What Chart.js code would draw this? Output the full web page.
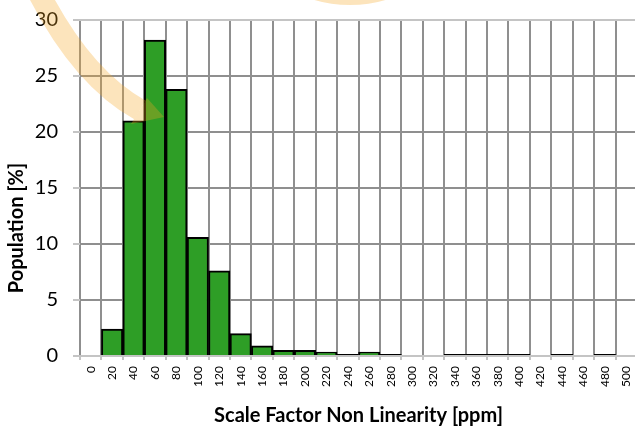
<!DOCTYPE html>
<html>
<head>
<meta charset="utf-8">
<script src="https://cdn.jsdelivr.net/npm/chart.js@4"></script>
<style>
  html, body { margin: 0; padding: 0; background: #fff; overflow: hidden; }
  #wrap { width: 640px; height: 428px; }
</style>
</head>
<body>
<div id="wrap"><canvas id="chart"></canvas></div>
<script>
// bins of the histogram (ppm)
const bins = ['0','20','40','60','80','100','120','140','160','180','200','220','240','260','280','300','320','340','360','380','400','420','440','460','480','500'];
// population per bin [%]
const population = [0, 2.4, 21.0, 28.2, 23.8, 10.6, 7.6, 2.0, 0.9, 0.5, 0.5, 0.35, 0.15, 0.35, 0.15, 0, 0, 0.15, 0.15, 0.15, 0.15, 0, 0.15, 0, 0.15, 0];
const yTicks = [0, 5, 10, 15, 20, 25, 30];

const FONT = 'Lato, "Open Sans", sans-serif';

// the big translucent orange arrow drawn over the plot
const arrowPlugin = {
    id: 'arrow',
    afterDraw(chart){
        const c = chart.ctx;
        const off = document.createElement('canvas');
        off.width = chart.width; off.height = chart.height;
        const o = off.getContext('2d');
        o.strokeStyle = '#f5a623';
        o.fillStyle = '#f5a623';
        o.lineWidth = 22;
        o.lineCap = 'butt';
        // top piece, mostly out of view
        o.beginPath();
        o.ellipse(350, -60, 79, 54, 0, 0, Math.PI);
        o.stroke();
        // tail coming down on the left
        o.beginPath();
        o.moveTo(30, -25);
        o.bezierCurveTo(58, 35, 95, 85, 140, 110);
        o.stroke();
        // arrow head
        o.beginPath();
        o.moveTo(147, 98);
        o.lineTo(164, 117);
        o.lineTo(131, 124);
        o.closePath();
        o.fill();
        c.save();
        c.globalAlpha = 0.3;
        c.drawImage(off, 0, 0);
        c.restore();
    }
};

// y axis title, placed where the original has it
const yTitlePlugin = {
    id: 'ytitle',
    afterDraw(chart){
        const c = chart.ctx;
        c.save();
        c.translate(17, 228);
        c.rotate(-Math.PI/2);
        c.font = 'bold 20px ' + FONT;
        c.fillStyle = '#000';
        c.textAlign = 'center';
        c.textBaseline = 'middle';
        c.fillText('Population [%]', 0, 0);
        c.restore();
    }
};

new Chart(document.getElementById('chart'), {
    type: 'bar',
    data: {
        labels: bins,
        datasets: [{
            data: population,
            // tiny bars are only their outline in the original
            backgroundColor: ctx => ctx.raw < 0.2 ? '#000' : '#2e9e26',
            borderColor: '#000',
            borderWidth: 2,
            barPercentage: 1,
            categoryPercentage: 1
        }]
    },
    options: {
        responsive: true,
        maintainAspectRatio: false,
        animation: false,
        layout: { padding: { left: 0, right: 3, top: 20, bottom: 0 } },
        plugins: {
            legend: { display: false },
            tooltip: { enabled: false }
        },
        scales: {
            x: {
                grid: {
                    offset: true,
                    color: '#8f8f8f',
                    lineWidth: 2,
                    tickLength: 4,
                    tickColor: '#c4c4c4'
                },
                border: { color: '#c4c4c4', width: 2 },
                ticks: {
                    autoSkip: false,
                    minRotation: 90,
                    maxRotation: 90,
                    padding: 6,
                    color: '#000',
                    font: { family: FONT, size: 12 }
                },
                title: {
                    display: true,
                    text: 'Scale Factor Non Linearity [ppm]',
                    color: '#000',
                    font: { family: FONT, size: 20, weight: 'bold' },
                    padding: { top: 0, bottom: 0 }
                },
                afterFit(scale){
                    scale.height = 72;
                    scale.paddingLeft = 0;
                    scale.paddingRight = 0;
                }
            },
            y: {
                min: 0,
                max: 30,
                afterBuildTicks(scale){ scale.ticks = yTicks.map(v => ({ value: v })); },
                grid: {
                    color: ctx => ctx.tick && ctx.tick.value === 30 ? '#c4c4c4' : '#8f8f8f',
                    lineWidth: 2,
                    tickLength: 7,
                    tickColor: '#c4c4c4'
                },
                border: { display: false },
                ticks: {
                    padding: 15,
                    color: '#000',
                    font: { family: FONT, size: 20 }
                },
                afterFit(scale){
                    scale.width = 80;
                    scale.paddingTop = 0;
                    scale.paddingBottom = 0;
                }
            }
        }
    },
    plugins: [arrowPlugin, yTitlePlugin]
});
</script>
</body>
</html>
